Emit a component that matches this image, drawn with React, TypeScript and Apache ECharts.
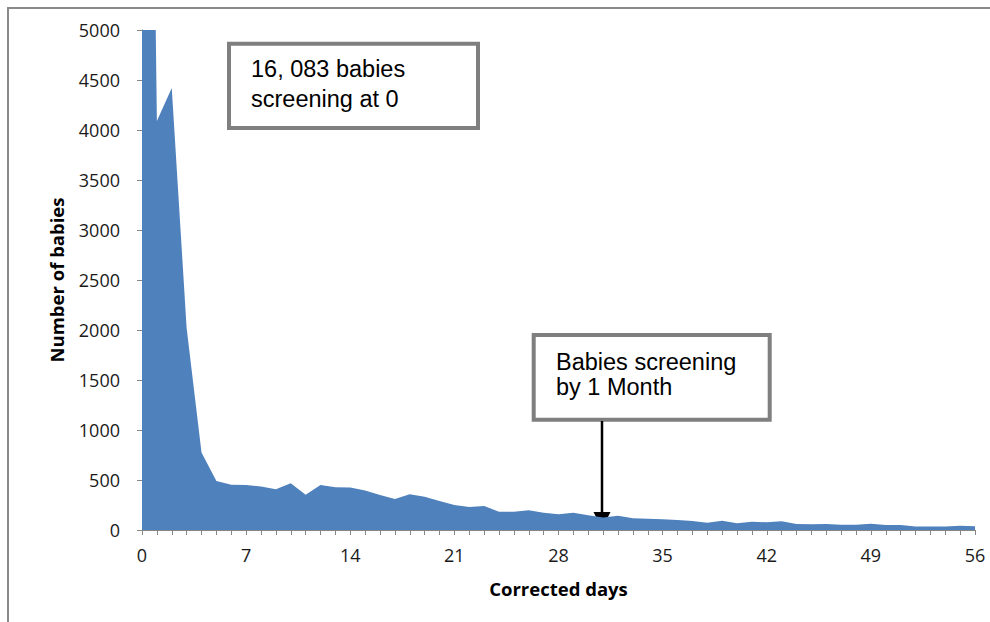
import React, { useEffect, useRef } from "react";
import * as echarts from "echarts";

const days: string[] = Array.from({ length: 57 }, (_, i) => String(i));
const babies: number[] = [
  16083, 4090, 4420, 2020, 775, 490, 452, 450, 435, 408,
  467, 353, 450, 428, 425, 395, 350, 310, 357, 333,
  290, 250, 230, 240, 183, 183, 197, 173, 157, 173,
  147, 125, 143, 117, 112, 107, 100, 90, 73, 93,
  67, 83, 77, 87, 60, 57, 60, 53, 53, 63,
  50, 50, 35, 35, 35, 43, 37,
];
const yTicks = { min: 0, max: 5000, interval: 500 };
const note1 = "16, 083 babies\nscreening at 0";
const note2 = "Babies screening\nby 1 Month";

export default function App() {
  const ref = useRef<HTMLDivElement>(null);
  useEffect(() => {
    if (!ref.current) return;
    const chart = echarts.init(ref.current, null, { renderer: "svg" });
    const axisFont = "'Open Sans', sans-serif";
    const noteFont = "23.5px 'Liberation Sans', Arial, sans-serif";
    chart.setOption({
      animation: false,
      backgroundColor: "#ffffff",
      grid: { left: 142, right: 15, top: 30, bottom: 92, containLabel: false },
      xAxis: {
        type: "category",
        data: days,
        boundaryGap: false,
        name: "Corrected days",
        nameLocation: "middle",
        nameGap: 49,
        nameTextStyle: { fontFamily: axisFont, fontWeight: "bold", fontSize: 18.5, color: "#000" },
        axisLine: { show: true, lineStyle: { color: "#868686", width: 1 } },
        axisTick: { show: true, interval: 0, length: 5, lineStyle: { color: "#868686" } },
        axisLabel: { interval: 6, margin: 16, fontFamily: axisFont, fontSize: 18, color: "#1a1a1a" },
        splitLine: { show: false },
      },
      yAxis: {
        type: "value",
        min: yTicks.min,
        max: yTicks.max,
        interval: yTicks.interval,
        name: "Number of babies",
        nameLocation: "middle",
        nameRotate: 90,
        nameGap: 76,
        nameTextStyle: { fontFamily: axisFont, fontWeight: "bold", fontSize: 18.5, color: "#000" },
        axisLine: { show: true, lineStyle: { color: "#868686", width: 1 } },
        axisTick: { show: true, length: 5, lineStyle: { color: "#868686" } },
        axisLabel: {
          margin: 22,
          fontFamily: axisFont,
          fontSize: 18,
          color: "#1a1a1a",
          formatter: (v: number) => String(v),
        },
        splitLine: { show: false },
      },
      series: [
        {
          type: "line",
          data: babies,
          clip: true,
          symbol: "none",
          lineStyle: { width: 0, color: "#4f81bd" },
          areaStyle: { color: "#4f81bd", opacity: 1 },
          itemStyle: { color: "#4f81bd" },
        },
      ],
      graphic: [
        { type: "line", shape: { x1: 7, y1: 8, x2: 990, y2: 8 }, style: { stroke: "#8a8a8a", lineWidth: 2 } },
        { type: "line", shape: { x1: 8, y1: 7, x2: 8, y2: 622 }, style: { stroke: "#8a8a8a", lineWidth: 2 } },
        {
          type: "rect",
          shape: { x: 229, y: 43.7, width: 249, height: 84.3 },
          style: { fill: "#ffffff", stroke: "#7f7f7f", lineWidth: 4 },
        },
        {
          type: "text",
          x: 251,
          y: 54,
          style: { text: note1, font: noteFont, fill: "#000", lineHeight: 30, textVerticalAlign: "top" },
        },
        {
          type: "rect",
          shape: { x: 533.7, y: 335, width: 236, height: 84.7 },
          style: { fill: "#ffffff", stroke: "#7f7f7f", lineWidth: 4 },
        },
        {
          type: "text",
          x: 556,
          y: 349.5,
          style: { text: note2, font: noteFont, fill: "#000", lineHeight: 25, textVerticalAlign: "top" },
        },
        { type: "line", shape: { x1: 602, y1: 421, x2: 602, y2: 514 }, style: { stroke: "#000", lineWidth: 2.5 } },
        {
          type: "polygon",
          shape: { points: [[593.5, 512], [610.5, 512], [602, 529]] },
          style: { fill: "#000" },
        },
      ],
    });
    return () => chart.dispose();
  }, []);
  return (
    <div
      ref={ref}
      style={{ position: "fixed", left: 0, top: 0, width: 990, height: 622, background: "#fff" }}
    />
  );
}
